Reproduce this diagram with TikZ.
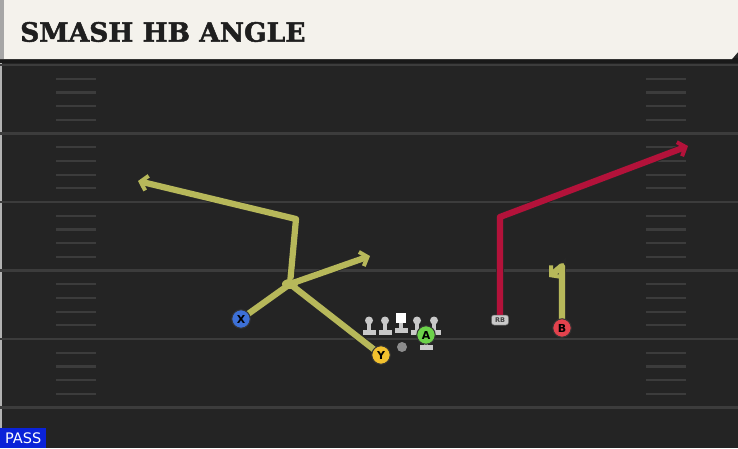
\documentclass[tikz,border=0pt]{standalone}
\usepackage{fontspec}
\usepackage{tikz}
\setmainfont{DejaVu Sans}
\newfontfamily\titlefont[UprightFont={* Bold}, FakeBold=1.8]{DejaVu Serif}
\definecolor{fieldGray}{HTML}{242424}
\definecolor{lineGray}{HTML}{3C3C3C}
\definecolor{titleCream}{HTML}{F4F2EC}
\definecolor{routeOlive}{HTML}{B7B85A}
\definecolor{routeRed}{HTML}{B3123A}
\definecolor{passBlue}{HTML}{0A22D8}
\definecolor{manGray}{HTML}{C9C9C9}
\definecolor{xBlue}{HTML}{3D70D6}
\definecolor{yGold}{HTML}{F2C12E}
\definecolor{aGreen}{HTML}{6CD24A}
\definecolor{bRed}{HTML}{E3424D}
\usetikzlibrary{arrows.meta, positioning}

\begin{document}
\begin{tikzpicture}[
    x=1pt, y=-1pt,
    player/.style={circle, draw=black!80, line width=1pt, minimum size=18.5pt, inner sep=0pt, font=\fontsize{11}{11}\selectfont\bfseries, text=black},
    lineman/.style={manGray, line width=4pt},
    route/.style={line width=6.2pt, line join=round, preaction={draw=black!85, line width=7.8pt}},
    tip/.style={-{Straight Barb[length=6.5pt, width=15pt, line width=4pt]}}
]
    \useasboundingbox (0,0) rectangle (738,448);
    \fill[fieldGray] (0,0) rectangle (738,448);
    \fill[black!30] (0,59) rectangle (2,448);

    % yard lines and hashes
    \foreach \y in {65, 133.5, 202, 270.5, 339, 407.5}
        \draw[lineGray, line width=2.4pt] (0,\y) -- (738,\y);
    \foreach \y in {65, 133.5, 202, 270.5, 339}
        \foreach \k in {1,...,4} {
            \draw[lineGray, line width=2.2pt] (56,\y+13.7*\k) -- (96,\y+13.7*\k);
            \draw[lineGray, line width=2.2pt] (646,\y+13.7*\k) -- (686,\y+13.7*\k);
        }

    % title bar
    \fill[black!90] (0,58) rectangle (738,63);
    \fill[titleCream] (0,0) -- (738,0) -- (738,52) -- (732,59) -- (0,59) -- cycle;
    \fill[black!35] (0,0) rectangle (4,59);
    \node[anchor=west, inner sep=0pt, text=black!88] (title) at (20,32) {\titlefont\fontsize{26.5}{26.5}\selectfont SMASH HB ANGLE};

    % line
    \foreach \x in {369, 385, 417, 434} {
        \fill[manGray] (\x,320.5) circle (4pt);
        \draw[lineman] (\x,321) -- (\x,331);
        \fill[manGray] (\x-6.5,330) rectangle (\x+6.5,335);
    }
    \node[fill=white, minimum size=10pt, inner sep=0pt] (center) at (401,318) {};
    \draw[lineman] (center) -- (401,329);
    \fill[manGray] (394.5,328) rectangle (407.5,333);
    \fill[black!45] (402,347) circle (5pt);
    \coordinate (qb) at (402,347);

    % routes
    \coordinate (xbreak) at (290,284);
    \coordinate (xstem) at (296,219);
    \coordinate (xend) at (138,181);
    \coordinate (yend) at (370,256);
    \coordinate (bstem) at (562,266);
    \coordinate (bend) at (549,277);
    \coordinate (rbstem) at (500,217);
    \coordinate (rbend) at (688,146);

    \node[inner sep=0pt, minimum size=0pt] (xspot) at (241,319) {};
    \node[inner sep=0pt, minimum size=0pt] (yspot) at (381,355) {};
    \node[inner sep=0pt, minimum size=0pt] (bspot) at (562,328) {};
    \node[inner sep=0pt, minimum size=0pt] (rbspot) at (500,320) {};

    \draw[route, routeOlive, tip] (xspot.center) -- (xbreak) -- (xstem) -- (xend);
    \draw[route, routeOlive, tip] (yspot.center) -- (xbreak) -- (yend);
    \fill[routeOlive] (xbreak) ellipse (8pt and 5pt);
    \draw[route, routeOlive, tip] (bspot.center) -- (bstem) -- (bend);
    \draw[route, routeRed, tip] (rbspot.center) -- (rbstem) -- (rbend);

    % players
    \node[player, fill=xBlue] (X) at (xspot) {X};
    \node[player, fill=yGold] (Y) at (yspot) {Y};
    \draw[lineman] (426,338) -- (426,346);
    \fill[manGray] (419.5,345) rectangle (432.5,350);
    \node[player, fill=aGreen] (A) at (426,335) {A};
    \node[player, fill=bRed] (B) at (bspot) {B};
    \node[fill=manGray, draw=black!60, line width=0.5pt, rounded corners=2.5pt, minimum width=17pt, minimum height=10pt, inner sep=0pt, font=\fontsize{6.5}{6.5}\selectfont\bfseries, text=black!75] (RB) at (rbspot) {RB};

    % formation tag
    \node[fill=passBlue, anchor=south west, minimum width=46pt, minimum height=20pt, inner sep=0pt, text=white, font=\fontsize{14.5}{14.5}\selectfont] (pass) at (0,448) {PASS};
\end{tikzpicture}
\end{document}
